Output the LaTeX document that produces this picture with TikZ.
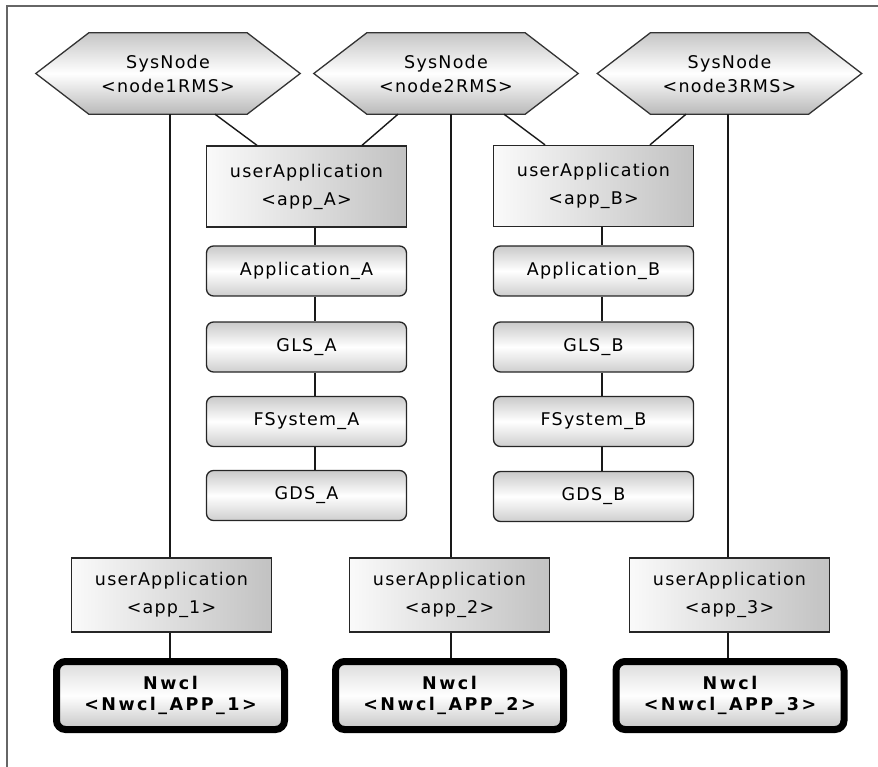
\documentclass[tikz,border=0pt]{standalone}
\usepackage{fontspec}
\setmainfont{DejaVu Sans}[LetterSpace=7]
\newfontfamily\nwfont{DejaVu Sans}[LetterSpace=14]
\usetikzlibrary{backgrounds,calc}

\tikzset{
  conn/.style={draw=black!90, line width=1.4},
  sysnode/.style={minimum width=264, minimum height=81, inner sep=0pt, align=center,
    font=\fontsize{17.5}{24}\selectfont},
  hexfill/.style={draw=black!80, line width=1.3, top color=gray!45, bottom color=gray!55,
    middle color=white},
  appbox/.style={draw=black!85, line width=1.3, left color=gray!4, right color=gray!48,
    minimum width=200, minimum height=81, inner sep=0pt, align=center,
    font=\fontsize{17.5}{28}\selectfont},
  lowapp/.style={appbox, minimum height=74},
  resbox/.style={draw=black!85, line width=1.3, rounded corners=7, top color=gray!42,
    bottom color=gray!38, middle color=white, minimum width=200, minimum height=50,
    inner sep=0pt, font=\fontsize{17.5}{22}\selectfont},
  nwbox/.style={draw=black, line width=7, rounded corners=9, top color=gray!28,
    bottom color=gray!45, middle color=white, minimum width=228, minimum height=68,
    inner sep=0pt, align=center, font=\nwfont\bfseries\fontsize{17.5}{21}\selectfont},
}

\begin{document}
\begin{tikzpicture}[x=1pt, y=-1pt]
\useasboundingbox (0,0) rectangle (878,767);

% outer frame (top and left edges)
\draw[black!60, line width=2] (7,767) -- (7,6) -- (878,6);

% cluster nodes
\node[sysnode] (s1) at (168,73.5) {SysNode\\<node1RMS>};
\node[sysnode] (s2) at (446,73.5) {SysNode\\<node2RMS>};
\node[sysnode] (s3) at (729.5,73.5) {SysNode\\<node3RMS>};

\begin{scope}[on background layer]
  \foreach \n in {s1,s2,s3}{
    \path[hexfill] (\n.west) -- ([xshift=53]\n.north west) -- ([xshift=-53]\n.north east)
      -- (\n.east) -- ([xshift=-53]\n.south east) -- ([xshift=53]\n.south west) -- cycle;
  }
\end{scope}

% switchover applications and their resources
\node[appbox] (uA) at (306.5,186.5) {userApplication\\<app\_A>};
\node[appbox] (uB) at (593.5,186) {userApplication\\<app\_B>};

\node[resbox] (rA1) at (306.5,271) {Application\_A};
\node[resbox] (rA2) at (306.5,347) {GLS\_A};
\node[resbox] (rA3) at (306.5,421.5) {FSystem\_A};
\node[resbox] (rA4) at (306.5,495.5) {GDS\_A};

\node[resbox] (rB1) at (593.5,271) {Application\_B};
\node[resbox] (rB2) at (593.5,347) {GLS\_B};
\node[resbox] (rB3) at (593.5,421.5) {FSystem\_B};
\node[resbox] (rB4) at (593.5,496.5) {GDS\_B};

% standby applications with Nwcl resources
\node[lowapp] (u1) at (171.5,595) {userApplication\\<app\_1>};
\node[lowapp] (u2) at (449.5,595) {userApplication\\<app\_2>};
\node[lowapp] (u3) at (729.5,595) {userApplication\\<app\_3>};

\node[nwbox] (w1) at (170.5,695.5) {Nwcl\\<Nwcl\_APP\_1>};
\node[nwbox] (w2) at (449.5,695.5) {Nwcl\\<Nwcl\_APP\_2>};
\node[nwbox] (w3) at (730,695.5) {Nwcl\\<Nwcl\_APP\_3>};

% connectors
\draw[conn] ([xshift=47]s1.south) -- ([xshift=-49.5]uA.north);
\draw[conn] ([xshift=-48]s2.south) -- ([xshift=55.5]uA.north);
\draw[conn] ([xshift=58]s2.south) -- ([xshift=-48.5]uB.north);
\draw[conn] ([xshift=-43.5]s3.south) -- ([xshift=56.5]uB.north);

\draw[conn] ([xshift=2]s1.south) -- ([xshift=-1.5]u1.north);
\draw[conn] ([xshift=5]s2.south) -- ([xshift=1.5]u2.north);
\draw[conn] ([xshift=-1.5]s3.south) -- ([xshift=-1.5]u3.north);

\foreach \a/\b in {uA/rA1,rA1/rA2,rA2/rA3,rA3/rA4,uB/rB1,rB1/rB2,rB2/rB3,rB3/rB4}{
  \draw[conn] ([xshift=8.5]\a.south) -- ([xshift=8.5]\b.north);
}

\draw[conn] ([xshift=-1.5]u1.south) -- ([xshift=-0.5]w1.north);
\draw[conn] ([xshift=1.5]u2.south) -- ([xshift=1.5]w2.north);
\draw[conn] ([xshift=-1.5]u3.south) -- ([xshift=-2]w3.north);
\end{tikzpicture}
\end{document}
